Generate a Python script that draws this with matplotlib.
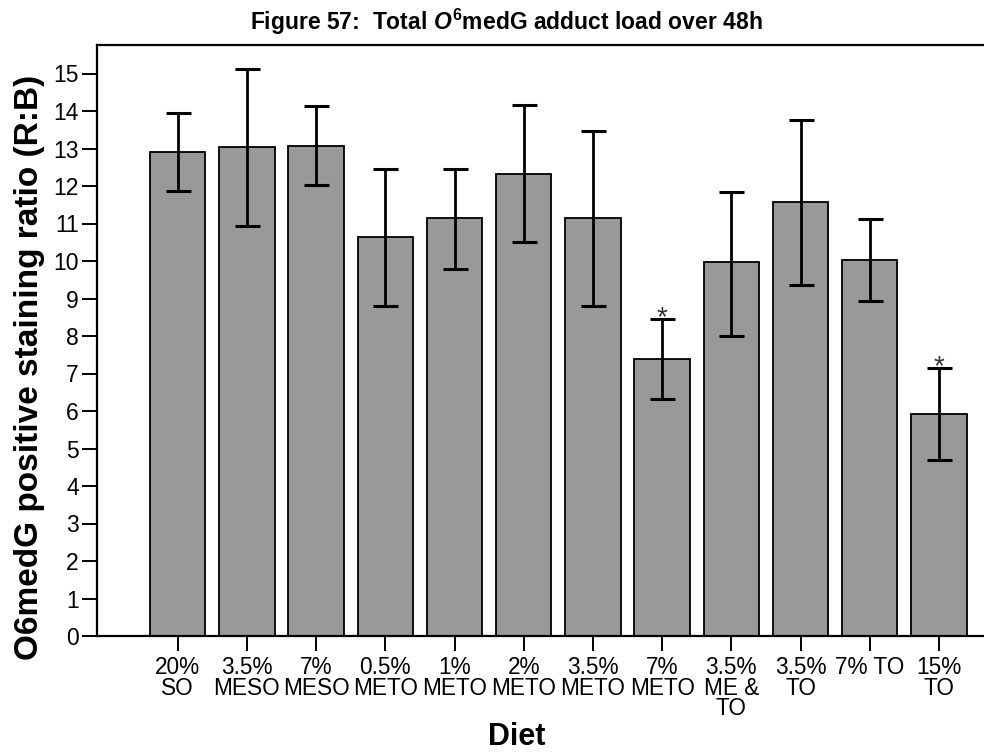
import matplotlib
matplotlib.use("Agg")
import matplotlib.pyplot as plt

plt.rcParams['font.family'] = ['Liberation Sans', 'DejaVu Sans']
plt.rcParams['mathtext.fontset'] = 'custom'
plt.rcParams['mathtext.rm'] = 'Liberation Sans:bold'
plt.rcParams['mathtext.it'] = 'Liberation Sans:bold:italic'
plt.rcParams['mathtext.bf'] = 'Liberation Sans:bold'

# données
diets = ["20%\nSO", "3.5%\nMESO", "7%\nMESO", "0.5%\nMETO", "1%\nMETO", "2%\nMETO",
         "3.5%\nMETO", "7%\nMETO", "3.5%\nME &\nTO", "3.5%\nTO", "7% TO", "15%\nTO"]
means = [12.92, 13.03, 13.08, 10.63, 11.14, 12.33, 11.15, 7.39, 9.96, 11.58, 10.03, 5.92]
err_low = [11.87, 10.93, 12.02, 8.80, 9.80, 10.51, 8.80, 6.33, 8.01, 9.36, 8.94, 4.69]
err_high = [13.95, 15.12, 14.13, 12.45, 12.46, 14.15, 13.48, 8.46, 11.85, 13.77, 11.11, 7.16]
signif = [False, False, False, False, False, False, False, True, False, False, False, True]

fig = plt.figure(figsize=(9.84, 7.54), dpi=100)
ax = fig.add_axes([97/984, 118/754, 0.926, (636-45)/754])

x = list(range(len(means)))
yerr = [[m - lo for m, lo in zip(means, err_low)],
        [hi - m for m, hi in zip(means, err_high)]]
ax.bar(x, means, width=0.8, color='#999999', edgecolor='black', linewidth=1.3, zorder=2)
ax.errorbar(x, means, yerr=yerr, fmt='none', ecolor='black', elinewidth=2.0,
            capsize=9, capthick=2.2, zorder=3)

# astérisques de significativité
for i in range(len(x)):
    if signif[i]:
        ax.text(x[i], err_high[i] + 0.02, "*", ha='center', va='center', fontsize=20,
                color='#333333', zorder=4)

ax.set_xlim(-1.166, 12.0)
ax.set_ylim(0, 15.76)
ax.set_yticks(range(0, 16))
ax.set_xticks(x)
ax.set_xticklabels(diets, fontsize=16.3, linespacing=0.86)
ax.tick_params(axis='y', labelsize=16.5, length=11, width=1.4, pad=2)
ax.tick_params(axis='x', length=10.5, width=1.4, pad=4)
for s in ['left', 'top', 'bottom', 'right']:
    ax.spines[s].set_linewidth(1.6)

fig.text(30/984, 1 - 367/754, "O6medG positive staining ratio (R:B)", rotation=90,
         ha='center', va='center', fontsize=24, fontweight='bold')
fig.text(517/984, 1 - 737/754, "Diet", ha='center', va='center', fontsize=22,
         fontweight='bold')
fig.text(506/984, 1 - 22/754, r"Figure 57:  Total $\mathit{O}^{\mathbf{6}}$medG adduct load over 48h",
         ha='center', va='center', fontsize=16.5, fontweight='bold')
fig.text(888/984, 1 - 762/754, "6", ha='center', va='center', fontsize=11)

fig.savefig("out.png", dpi=100)
